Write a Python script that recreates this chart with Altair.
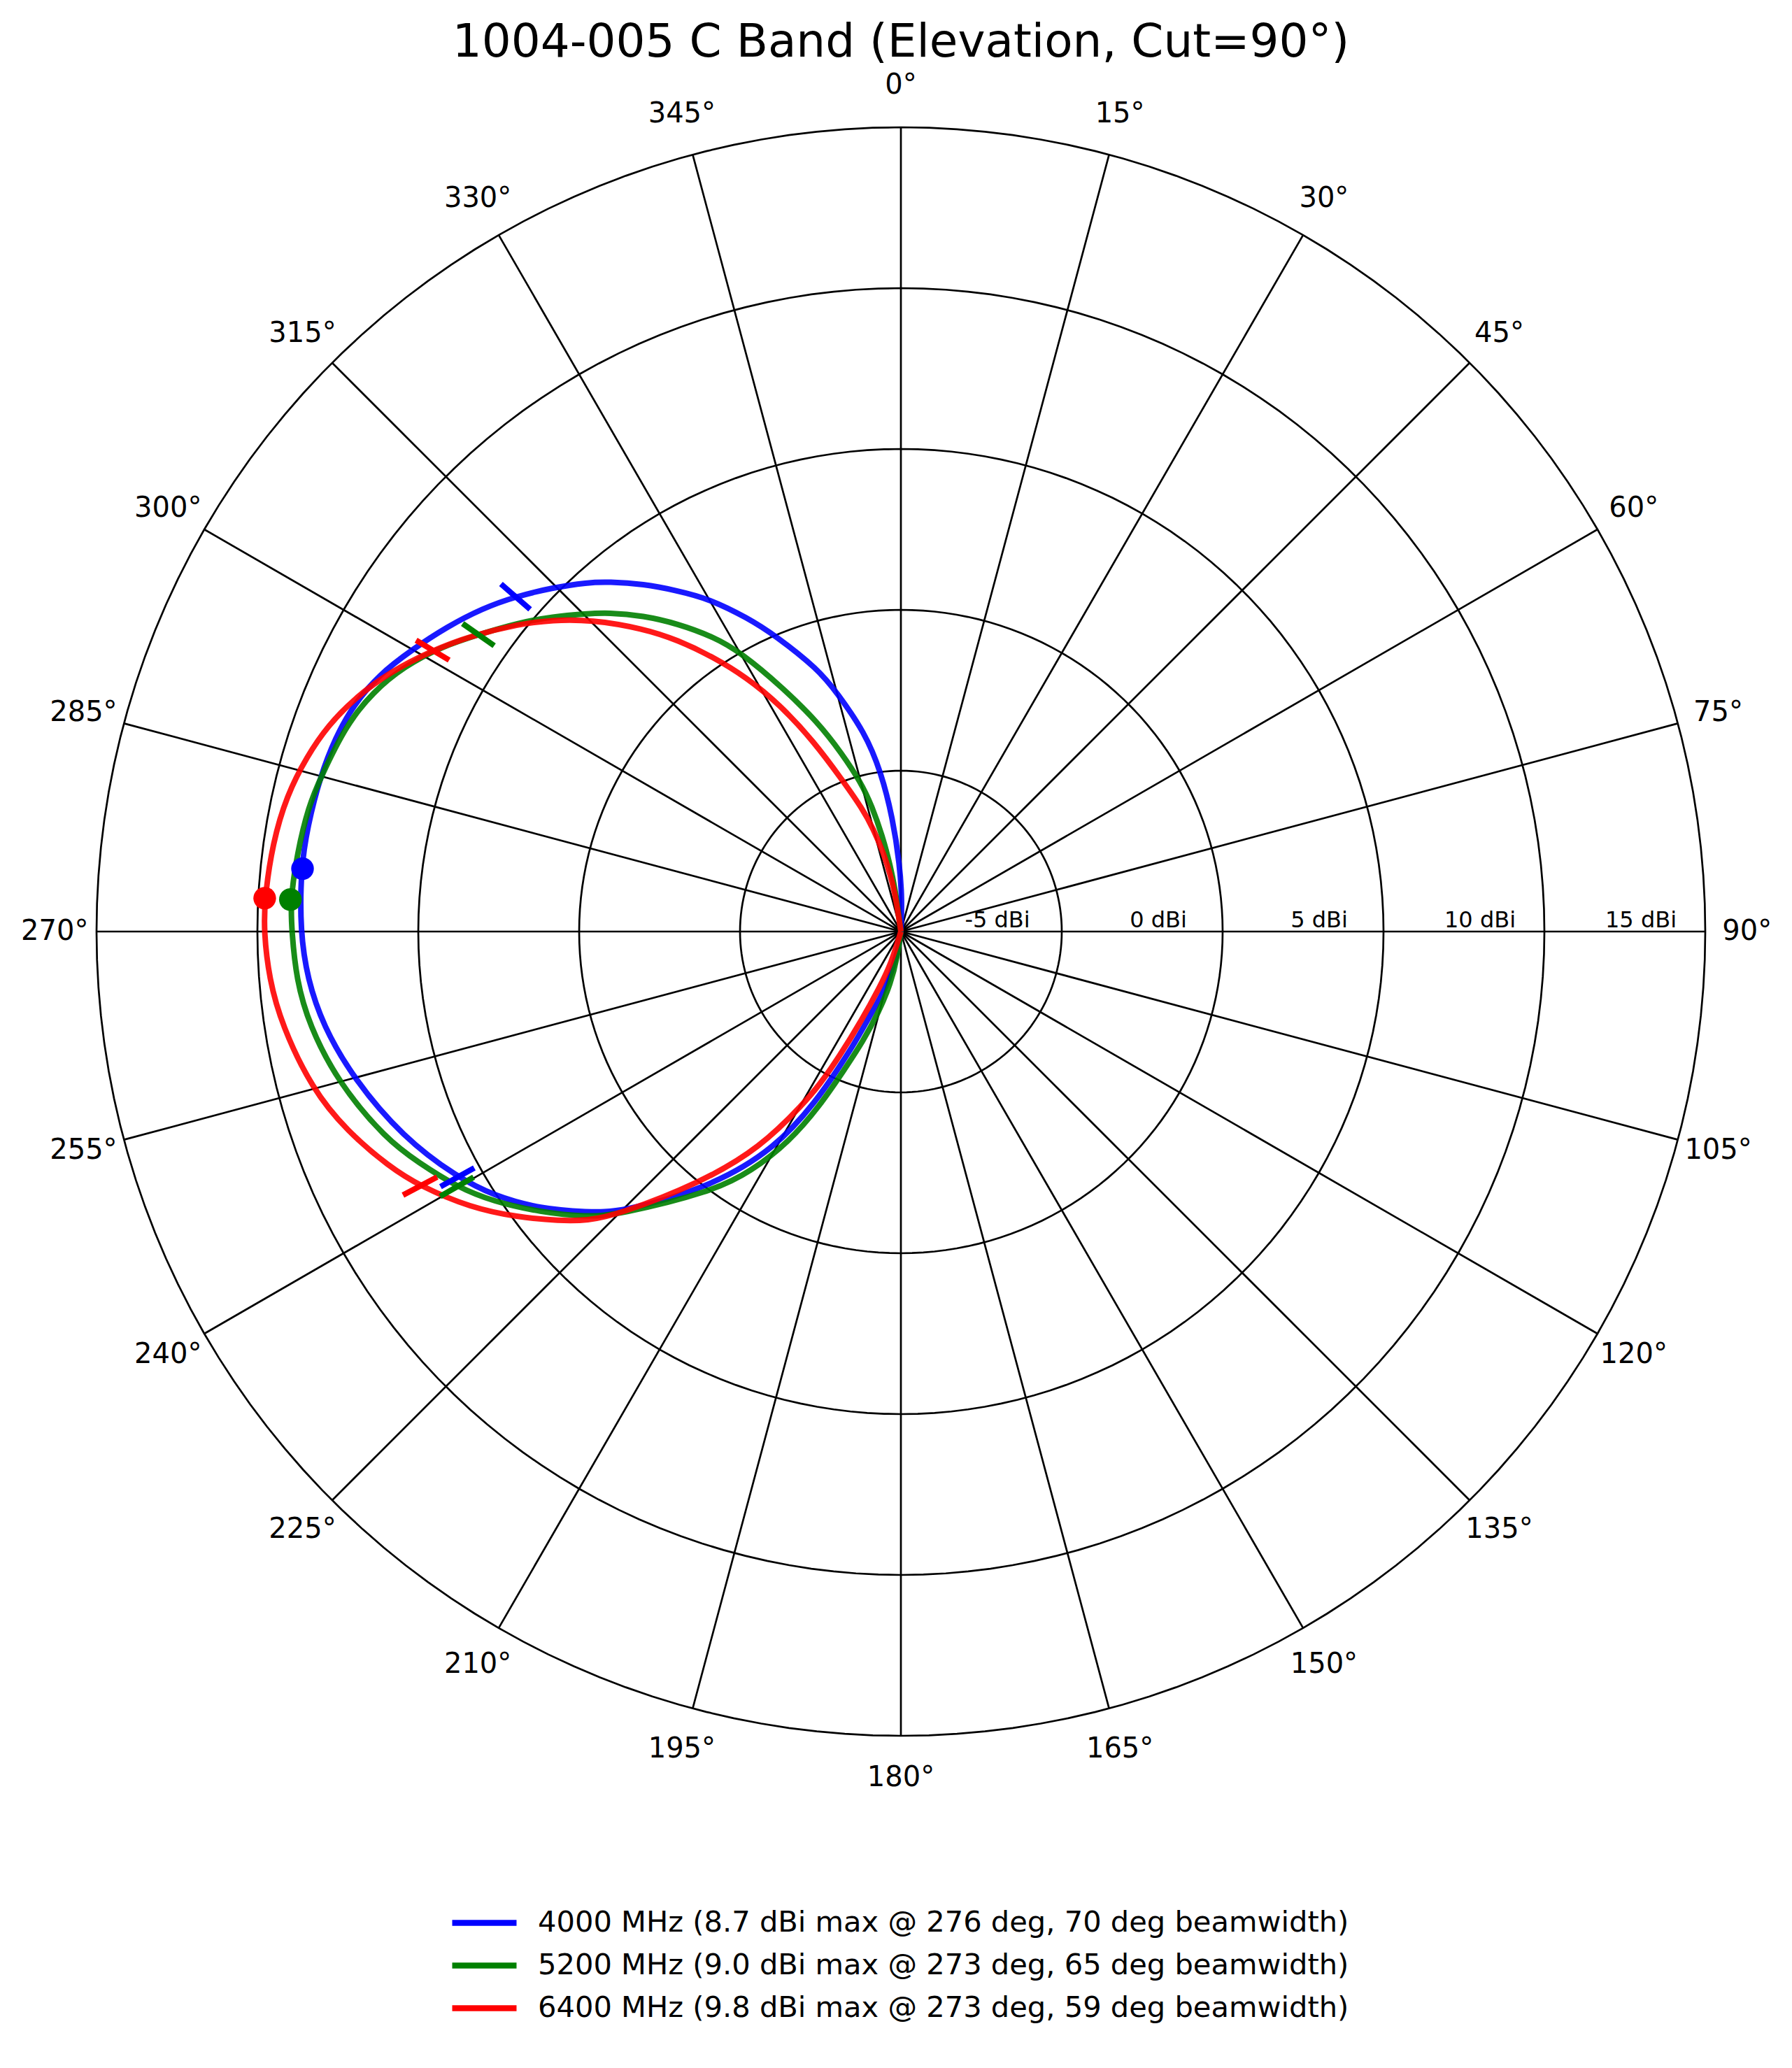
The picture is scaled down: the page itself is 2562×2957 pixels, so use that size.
import altair as alt
import pandas as pd

TITLE = "1004-005 C Band (Elevation, Cut=90°)"
SERIES = [
    "4000 MHz (8.7 dBi max @ 276 deg, 70 deg beamwidth)",
    "5200 MHz (9.0 dBi max @ 273 deg, 65 deg beamwidth)",
    "6400 MHz (9.8 dBi max @ 273 deg, 59 deg beamwidth)",
]
COLORS = ["#0000ff", "#008000", "#ff0000"]

# pattern readings: angle (deg, clockwise from north) and gain (dBi)
blue_theta = [186, 188.5, 194.7, 199.8, 202.3, 204.8, 206.4, 210, 217, 225,
              228.2, 232.4, 237.0, 241.0, 247.6, 255.0, 260.8, 265.4, 270, 276,
              280, 285, 288.9, 292.4, 296.2, 299.9, 303.9, 307.7, 311.0, 314.6,
              318.1, 320.1, 323.5, 326.7, 330.0, 334.0, 337.0, 342.5, 345.0, 349.7,
              352.9, 355.9, 359.0, 362.2, 364]
blue_db = [-10, -9.31, -8.17, -7.35, -6.29, -5.2, -4.2, -2.2, 0.0, 2.35,
           3.08, 4.13, 5.08, 5.76, 6.75, 7.62, 8.2, 8.5, 8.67, 8.75,
           8.73, 8.68, 8.58, 8.42, 8.08, 7.55, 6.99, 6.43, 5.87, 5.22,
           4.58, 4.17, 3.44, 2.68, 1.95, 0.84, 0.0, -1.45, -2.31, -3.70,
           -5.0, -6.47, -7.93, -9.02, -10]

green_theta = [185, 187.7, 191.1, 195.3, 199.1, 202.3, 205, 208, 212, 216,
               225, 227.7, 232.1, 236.5, 240.1, 244.4, 248, 255, 261, 265.5,
               270, 273, 277.4, 281.9, 285, 290.4, 294.4, 298.1, 301.8, 305.1,
               308.9, 312.2, 315.2, 317.5, 320.8, 324.1, 327.5, 330.1, 334.2, 338.4,
               341.6, 345, 347, 349, 351, 352.5, 354]
green_db = [-10, -9.24, -8.35, -7.42, -6.37, -5.35, -4.0, -2.6, -1.2, 0.0,
            2.45, 3.18, 4.20, 5.20, 5.92, 6.62, 7.25, 8.11, 8.62, 8.85,
            8.93, 9.0, 8.92, 8.82, 8.65, 8.40, 8.02, 7.50, 6.80, 6.05,
            5.28, 4.58, 3.92, 3.45, 2.67, 1.81, 0.87, 0.03, -1.59, -3.02,
            -4.15, -5.2, -6.0, -6.95, -7.95, -8.8, -10]

red_theta = [194, 197, 201.1, 203.7, 206.3, 208, 209.4, 213, 218.6, 225,
             227.3, 229.7, 233.3, 237.3, 242.1, 245.3, 250.2, 255, 261.4, 265.7,
             270, 273, 278, 282.5, 286.4, 289.8, 293.2, 296.9, 301.0, 304.6,
             308.8, 311.8, 315.2, 319.6, 322.6, 325.6, 328.7, 331.9, 335.4, 339,
             342.6, 345, 347.5, 349.5, 351.5, 353.5]
red_db = [-10, -8.91, -8.11, -7.04, -5.6, -4.6, -3.89, -2.0, 0.0, 2.45,
          3.25, 3.9, 4.86, 5.89, 6.91, 7.5, 8.3, 8.94, 9.46, 9.69,
          9.8, 9.8, 9.72, 9.55, 9.25, 8.92, 8.45, 7.82, 6.98, 6.2,
          5.25, 4.53, 3.66, 2.37, 1.40, 0.35, -0.75, -2.0, -3.5, -5.0,
          -6.0, -6.7, -7.5, -8.2, -8.9, -10]

peak_theta = [276, 273, 273]
peak_db = [8.7, 9.0, 9.8]
half_theta_lo = [241.0, 240.1, 242.1]
half_db_lo = [5.76, 5.92, 6.91]
half_theta_hi = [311.0, 305.1, 301.0]
half_db_hi = [5.87, 6.05, 6.98]

ring_db = [-5, 0, 5, 10, 15]
ring_labels = ["-5 dBi", "0 dBi", "5 dBi", "10 dBi", "15 dBi"]
spoke_angles = list(range(0, 360, 15))
spoke_labels = [f"{a}°" for a in spoke_angles]

R_MIN, R_MAX = -10, 15
SPAN = R_MAX - R_MIN
FONT = "DejaVu Sans"

# ---- tables ----
curve_rows = []
for s, th, db in zip(SERIES, [blue_theta, green_theta, red_theta], [blue_db, green_db, red_db]):
    for i, (t, d) in enumerate(zip(th, db)):
        curve_rows.append({"series": s, "idx": i, "theta": t, "db": d})
curves = pd.DataFrame(curve_rows)

peaks = pd.DataFrame({"series": SERIES, "theta": peak_theta, "db": peak_db, "col": COLORS})
ticks = pd.DataFrame({
    "series": SERIES * 2,
    "theta": half_theta_lo + half_theta_hi,
    "db": half_db_lo + half_db_hi,
    "col": COLORS * 2,
})

ring_rows = []
for v in ring_db:
    for i, a in enumerate(range(0, 361, 2)):
        ring_rows.append({"ring": v, "idx": i, "theta": a})
rings = pd.DataFrame(ring_rows)
ring_lab = pd.DataFrame({"ring": ring_db, "label": ring_labels})
spokes = pd.DataFrame({"theta": spoke_angles, "label": spoke_labels})

xs = alt.Scale(domain=[-SPAN, SPAN], nice=False, zero=False)
ys = alt.Scale(domain=[-SPAN, SPAN], nice=False, zero=False)
RAD = "PI/180"


def X(f):
    return alt.X(f, type="quantitative", scale=xs, axis=None)


def Y(f):
    return alt.Y(f, type="quantitative", scale=ys, axis=None)


ring_layer = alt.Chart(rings).transform_calculate(
    r=f"datum.ring - ({R_MIN})",
).transform_calculate(
    x=f"datum.r*sin(datum.theta*{RAD})", y=f"datum.r*cos(datum.theta*{RAD})"
).mark_line(color="black", strokeWidth=2.7).encode(
    x=X("x"), y=Y("y"), detail="ring:N", order="idx:Q"
)

spoke_layer = alt.Chart(spokes).transform_calculate(
    x0="0", y0="0",
    x1=f"{SPAN}*sin(datum.theta*{RAD})", y1=f"{SPAN}*cos(datum.theta*{RAD})",
).mark_rule(color="black", strokeWidth=2.7).encode(
    x=X("x0"), y=Y("y0"), x2="x1:Q", y2="y1:Q"
)

angle_lab = alt.Chart(spokes).transform_calculate(
    x=f"{SPAN}*1.052*sin(datum.theta*{RAD})", y=f"{SPAN}*1.052*cos(datum.theta*{RAD})"
).mark_text(font=FONT, fontSize=40, align="center", baseline="middle", color="black").encode(
    x=X("x"), y=Y("y"), text="label:N"
)

r_lab = alt.Chart(ring_lab).transform_calculate(
    x=f"datum.ring - ({R_MIN}) - 2", y="0"
).mark_text(font=FONT, fontSize=32, align="center", baseline="alphabetic", dy=-6, color="black").encode(
    x=X("x"), y=Y("y"), text="label:N"
)

curve_layer = alt.Chart(curves).transform_calculate(
    r=f"max(datum.db - ({R_MIN}), 0)"
).transform_calculate(
    x=f"datum.r*sin(datum.theta*{RAD})", y=f"datum.r*cos(datum.theta*{RAD})"
).mark_line(strokeWidth=8, opacity=0.9, interpolate="basis").encode(
    x=X("x"), y=Y("y"), order="idx:Q",
    color=alt.Color(
        "series:N",
        scale=alt.Scale(domain=SERIES, range=COLORS),
        legend=alt.Legend(
            orient="none", legendX=515, legendY=2528, title=None,
            symbolType="M-1.314,0H1.314", symbolSize=4900, symbolStrokeWidth=8.3,
            symbolOpacity=0.9, symbolFillColor="transparent",
            labelFontSize=41.6, labelFont=FONT, labelLimit=3000,
            labelOffset=37, rowPadding=0, labelColor="black",
        ),
    ),
)

tick_layer = alt.Chart(ticks).transform_calculate(
    r1=f"datum.db - ({R_MIN}) - 0.6", r2=f"datum.db - ({R_MIN}) + 0.6"
).transform_calculate(
    xa=f"datum.r1*sin(datum.theta*{RAD})", ya=f"datum.r1*cos(datum.theta*{RAD})",
    xb=f"datum.r2*sin(datum.theta*{RAD})", yb=f"datum.r2*cos(datum.theta*{RAD})",
).mark_rule(strokeWidth=8).encode(
    x=X("xa"), y=Y("ya"), x2="xb:Q", y2="yb:Q",
    color=alt.Color("col:N", scale=None),
)

peak_layer = alt.Chart(peaks).transform_calculate(
    r=f"datum.db - ({R_MIN})"
).transform_calculate(
    x=f"datum.r*sin(datum.theta*{RAD})", y=f"datum.r*cos(datum.theta*{RAD})"
).mark_circle(size=1050, opacity=1).encode(
    x=X("x"), y=Y("y"), color=alt.Color("col:N", scale=None)
)

chart = alt.layer(
    ring_layer, spoke_layer, angle_lab, r_lab, curve_layer, tick_layer, peak_layer
).properties(
    width=2300, height=2300,
    title=alt.TitleParams(TITLE, font=FONT, fontSize=66, fontWeight="normal",
                          anchor="middle", color="black", offset=7),
    padding={"left": 130, "top": 174, "right": 100, "bottom": 440},
    autosize=alt.AutoSizeParams(type="none"),
).configure_view(stroke=None)

chart.save("out.html", embed_options={"renderer": "svg", "actions": False})
